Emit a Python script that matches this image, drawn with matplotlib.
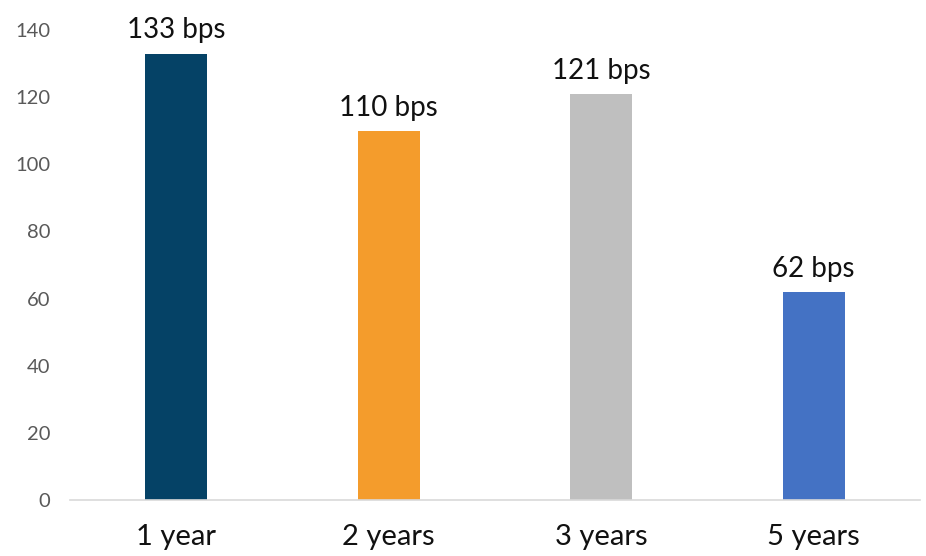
import matplotlib
matplotlib.use("Agg")
import matplotlib.pyplot as plt

# spread by tenor, in basis points
tenors = ["1 year", "2 years", "3 years", "5 years"]
spreads = [133, 110, 121, 62]
bar_colors = ["#054266", "#F49C2C", "#BFBFBF", "#4472C4"]

plt.rcParams['font.family'] = ['Lato', 'DejaVu Sans']

fig = plt.figure(figsize=(9.26, 5.56), dpi=100)
ax = fig.add_axes([70 / 926, 56 / 556, 850 / 926, 470 / 556])

x = range(len(tenors))
bars = ax.bar(x, spreads, width=0.29, color=bar_colors, zorder=2)

for rect, v in zip(bars, spreads):
    ax.text(rect.get_x() + rect.get_width() / 2, v + 3, f"{v} bps",
            ha="center", va="bottom", fontsize=20, color="#111111")

ax.set_xlim(-0.5, len(tenors) - 0.5)
ax.set_ylim(0, 140)
ax.set_yticks(range(0, 141, 20))
ax.set_xticks(list(x))
ax.set_xticklabels(tenors, fontsize=21, color="#111111")
ax.tick_params(axis="y", labelsize=14.5, labelcolor="#595959", length=0, pad=14)
ax.tick_params(axis="x", length=0, pad=17)

for s in ["top", "right", "left"]:
    ax.spines[s].set_visible(False)
ax.spines["bottom"].set_color("#D9D9D9")
ax.spines["bottom"].set_linewidth(1.2)

fig.savefig("out.png", dpi=100)
